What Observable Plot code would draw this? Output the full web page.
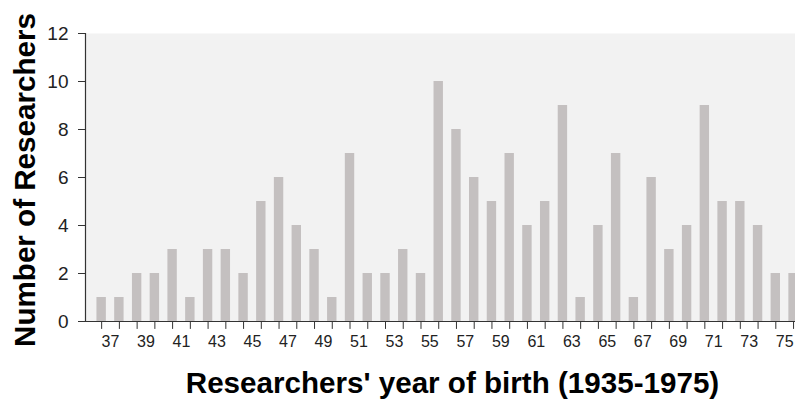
<!DOCTYPE html>
<html>
<head>
<meta charset="utf-8">
<script src="https://cdn.jsdelivr.net/npm/d3@7"></script>
<script src="https://cdn.jsdelivr.net/npm/@observablehq/plot@0.6"></script>
<style>
  html, body { margin: 0; padding: 0; background: #fff; }
  #chart svg { display: block; font-family: Arial, "Liberation Sans", sans-serif; }
</style>
</head>
<body>
<div id="chart"></div>
<script>
// Birth years (19xx) of researchers, one bar per year
const years = [36,37,38,39,40,41,42,43,44,45,46,47,48,49,50,51,52,53,54,55,
               56,57,58,59,60,61,62,63,64,65,66,67,68,69,70,71,72,73,74,75];
const counts = [1,1,2,2,3,1,3,3,2,5,6,4,3,1,7,2,2,3,2,10,
                8,6,5,7,4,5,9,1,4,7,1,6,3,4,9,5,5,4,2,2];
const xTickLabels = [37,39,41,43,45,47,49,51,53,55,57,59,61,63,65,67,69,71,73,75];
const yTicks = [0,2,4,6,8,10,12];
const xTitle = "Researchers' year of birth (1935-1975)";
const yTitle = "Number of Researchers";

const data = years.map((y, i) => ({year: y, count: counts[i]}));
const half = 0.265;

const chart = Plot.plot({
  width: 795,
  height: 409,
  marginLeft: 85,
  marginRight: 0,
  marginTop: 33,
  marginBottom: 88,
  style: {fontFamily: 'Arial, "Liberation Sans", sans-serif', color: "#222", background: "#fff"},
  x: {domain: [35.59, 75.61], axis: null},
  y: {domain: [0, 12], axis: null},
  marks: [
    Plot.frame({fill: "#f2f2f2", stroke: null}),
    Plot.rectY(data, {
      x1: d => d.year + 0.5 - half,
      x2: d => d.year + 0.5 + half,
      y1: 0,
      y2: "count",
      fill: "#c4c0c0"
    }),
    // y axis
    Plot.axisY({ticks: yTicks, tickSize: 7, tickPadding: 10, fontSize: 19, label: null, stroke: "#333", color: "#222"}),
    Plot.ruleX([35.59], {stroke: "#333", strokeWidth: 1.2}),
    // x axis: ticks at each bar, labels on odd years
    Plot.ruleY([0], {stroke: "#333", strokeWidth: 1.2}),
    Plot.ruleX(years, {x: d => d + 0.5, y1: 0, y2: -0.33, stroke: "#333", clip: false}),
    Plot.axisX({ticks: xTickLabels, tickSize: 0, tickPadding: 14, fontSize: 16, tickFormat: d => String(d), label: null, color: "#222"}),
    // x title
    Plot.text([xTitle], {frameAnchor: "bottom", dy: 71, dx: 12, fontSize: 29.6, fontWeight: "bold", fill: "#000"})
  ]
});

// y title (rotated), added as real SVG text
d3.select(chart).append("text")
  .attr("transform", "translate(35,180) rotate(-90)")
  .attr("text-anchor", "middle")
  .attr("font-size", 29.6)
  .attr("font-weight", "bold")
  .attr("fill", "#000")
  .text(yTitle);

document.getElementById("chart").appendChild(chart);
</script>
</body>
</html>
